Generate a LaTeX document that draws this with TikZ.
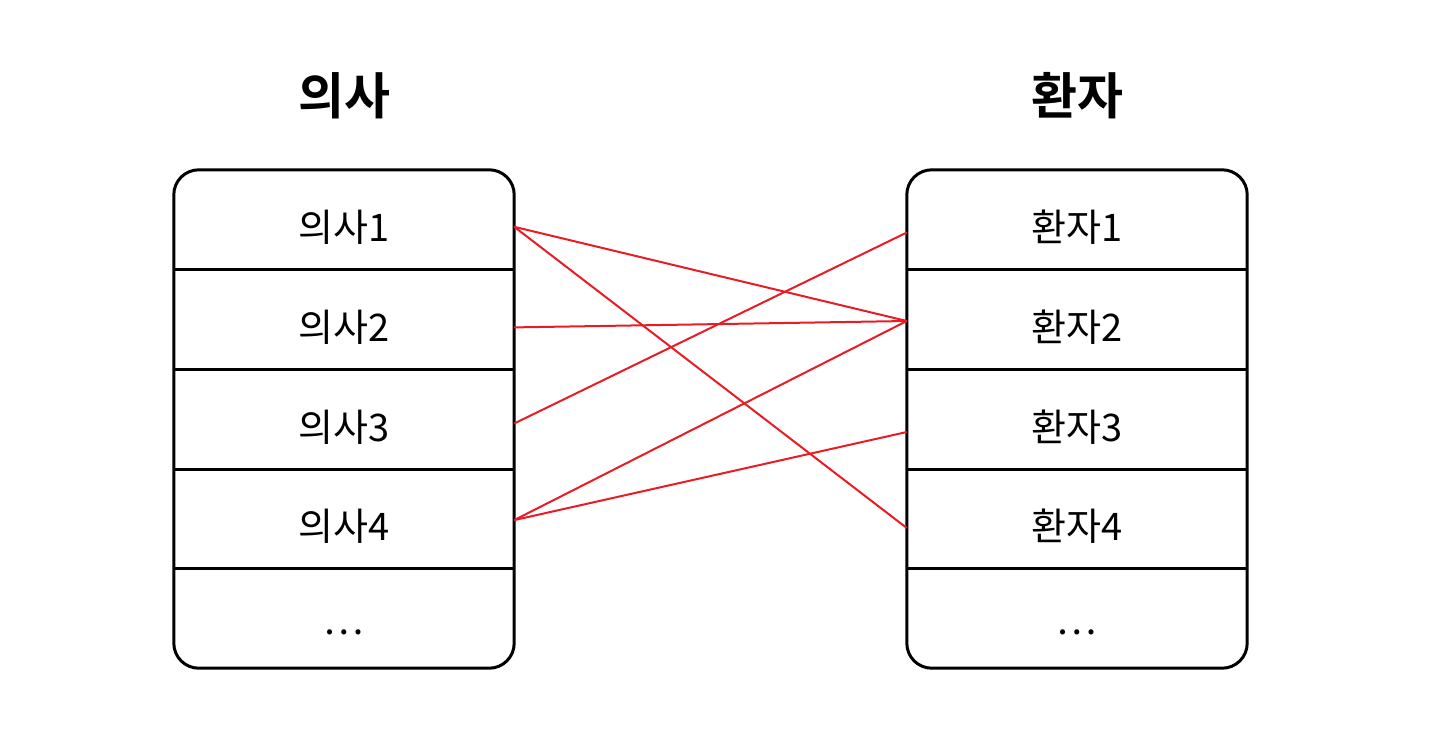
\documentclass[tikz,border=0pt]{standalone}
\usepackage{fontspec}
\newfontfamily\kr{Noto Sans CJK KR}[BoldFont={Noto Sans CJK KR Bold}]
\definecolor{linkred}{RGB}{232,28,36}
\begin{document}
\begin{tikzpicture}[x=1pt,y=-1pt,
  rowcell/.style={minimum width=340pt,minimum height=99.6pt,inner sep=0pt,font=\kr\fontsize{38}{38}\selectfont},
  boxframe/.style={draw=black,line width=3pt,rounded corners=25pt},
  divider/.style={draw=black,line width=3pt},
  titletext/.style={font=\kr\bfseries\fontsize{50}{50}\selectfont},
  conn/.style={draw=linkred,line width=2pt}]
\useasboundingbox (0,0) rectangle (1450,752);
% titles
\node[titletext] (tl) at (344,96) {의사};
\node[titletext] (tr) at (1077,96) {환자};
% rows
\foreach \i/\t in {1/의사1,2/의사2,3/의사3,4/의사4}{
  \node[rowcell] (d\i) at (344,{170+99.6*(\i-0.5)}) {\raisebox{-22pt}[0pt][0pt]{\t}};
}
\node[rowcell] (d5) at (344,{170+99.6*4.5}) {\raisebox{-16pt}[0pt][0pt]{\dots}};
\foreach \i/\t in {1/환자1,2/환자2,3/환자3,4/환자4}{
  \node[rowcell] (p\i) at (1077,{170+99.6*(\i-0.5)}) {\raisebox{-22pt}[0pt][0pt]{\t}};
}
\node[rowcell] (p5) at (1077,{170+99.6*4.5}) {\raisebox{-16pt}[0pt][0pt]{\dots}};
% frames
\draw[boxframe] (d1.north west) rectangle (d5.south east);
\draw[boxframe] (p1.north west) rectangle (p5.south east);
\foreach \i in {1,2,3,4}{
  \draw[divider] (d\i.south west) -- (d\i.south east);
  \draw[divider] (p\i.south west) -- (p\i.south east);
}
% connector endpoints
\coordinate (a1) at ([yshift=-7pt]d1.east);
\coordinate (a2) at ([yshift=-8pt]d2.east);
\coordinate (a3) at ([yshift=-4.5pt]d3.east);
\coordinate (a4) at ([yshift=-1.5pt]d4.east);
\coordinate (b1) at ([yshift=-12.7pt]p1.west);
\coordinate (b2) at ([yshift=-1.6pt]p2.west);
\coordinate (b3) at ([yshift=-13pt]p3.west);
\coordinate (b4) at ([yshift=-9.4pt]p4.west);
\draw[conn] (a1) -- (b2);
\draw[conn] (a1) -- (b4);
\draw[conn] (a2) -- (b2);
\draw[conn] (a3) -- (b1);
\draw[conn] (a4) -- (b2);
\draw[conn] (a4) -- (b3);
\end{tikzpicture}
\end{document}
